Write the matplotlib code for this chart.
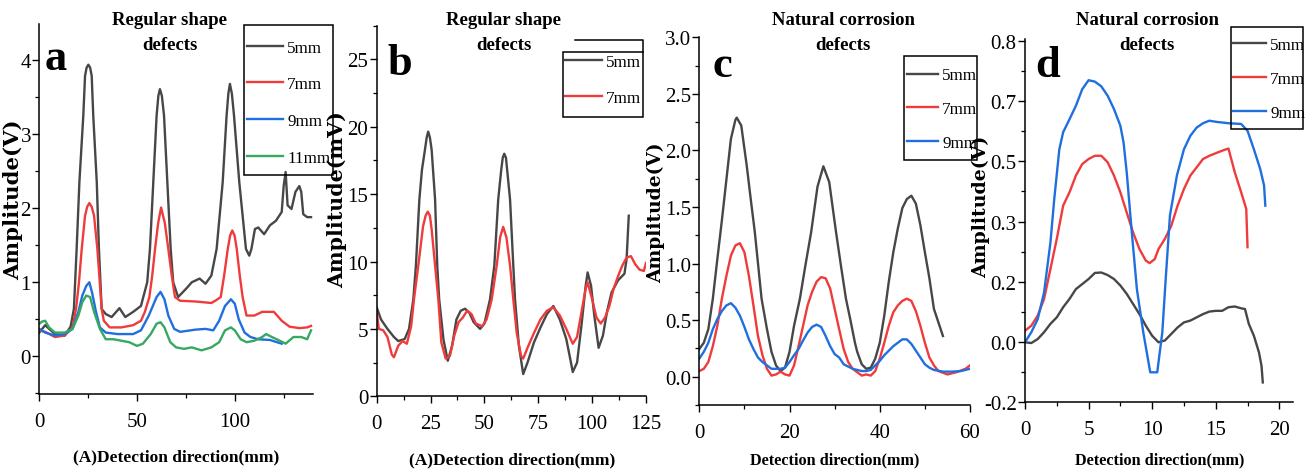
import numpy as np
import matplotlib
matplotlib.use("Agg")
import matplotlib.pyplot as plt
from matplotlib.ticker import MultipleLocator, FixedLocator, FixedFormatter, FormatStrFormatter
from matplotlib.patches import Rectangle
from matplotlib.lines import Line2D

plt.rcParams['font.family'] = ['Liberation Serif', 'DejaVu Serif']

# ---------------- data ----------------
# Panel a (Regular shape defects, V)
a_x_5 = [0,3,8,13,16,17.7,19.1,20.5,22.5,23.4,24.2,25.1,26,26.8,27.6,29.4,30.5,31.9,34,37,41,44,48,52,55.2,56.6,58.3,60.0,60.9,61.7,62.7,63.8,65.5,67.2,68.5,71,75,78,82,85,88,90.7,93.8,95.8,96.7,97.5,98.5,99.6,102.3,105.7,107.4,108.5,110.3,112,115,118,121,124,125,126,127,129,131,133,134,135,137,139]
a_y_5 = [0.32,0.42,0.30,0.28,0.4,0.64,1.45,2.35,3.25,3.79,3.9,3.94,3.9,3.79,3.25,2.35,1.45,0.64,0.57,0.53,0.65,0.53,0.60,0.68,1.0,1.45,2.35,3.25,3.52,3.61,3.52,3.25,2.35,1.45,1.0,0.8,0.91,1.0,1.05,0.98,1.09,1.45,2.35,3.25,3.55,3.68,3.55,3.25,2.35,1.45,1.36,1.45,1.72,1.74,1.65,1.77,1.83,1.95,2.3,2.49,2.04,1.99,2.22,2.3,2.22,1.92,1.88,1.88]
a_x_7 = [0,3,8,13,17,18.8,20.3,21.7,23.4,24.5,25.6,26.8,28,29.7,31.9,33,36,42,48,52,54,56.3,57.8,59.2,60.8,62.3,64.2,66,67.7,69.4,72,80,88,90,92.8,94.6,96.4,97.6,98.7,99.9,101,102.5,104,106,110,114,120,124,128,133,137,139]
a_y_7 = [0.35,0.33,0.26,0.28,0.39,0.64,1.0,1.45,1.9,2.02,2.07,2.02,1.9,1.45,0.64,0.48,0.39,0.39,0.42,0.48,0.6,0.8,1.1,1.45,1.8,2.01,1.8,1.45,1.1,0.8,0.75,0.74,0.72,0.75,0.8,1.1,1.45,1.63,1.7,1.63,1.45,1.1,0.8,0.55,0.55,0.6,0.6,0.48,0.4,0.38,0.39,0.41]
a_x_9 = [0,3,8,13,17,20,22,24,25.6,27,29,31,34,40,48,52,56,60,62,64,66,69,72,80,85,89,92,95,98,100,102,105,108,112,118,124]
a_y_9 = [0.37,0.32,0.28,0.30,0.37,0.6,0.82,0.95,1.0,0.86,0.6,0.39,0.32,0.3,0.3,0.35,0.55,0.8,0.87,0.77,0.55,0.37,0.33,0.36,0.37,0.35,0.48,0.68,0.77,0.71,0.5,0.32,0.26,0.23,0.22,0.17]
a_x_11 = [0,1.5,3,5,8,13,17,20,22,24,26,28,31,34,38,42,46,50,53,57,60,62,64,67,70,74,78,83,88,92,95,98,100,103,106,110,114,116,119,123,126,130,134,137,139]
a_y_11 = [0.44,0.47,0.48,0.39,0.32,0.32,0.37,0.55,0.73,0.82,0.8,0.6,0.37,0.23,0.23,0.21,0.19,0.14,0.17,0.3,0.44,0.46,0.39,0.19,0.12,0.1,0.12,0.08,0.12,0.19,0.35,0.39,0.35,0.23,0.19,0.21,0.26,0.3,0.26,0.21,0.17,0.26,0.26,0.23,0.35]

# Panel b (Regular shape defects, mV)
b_x_5 = [0,2,5,8,10,13,15,17,18.2,19.8,21,22.4,23.2,23.9,24.7,25.5,27.1,28.1,29,31,33,35,37,39,41,43,45,48,50,52.6,54.6,56.4,57.8,58.5,59.2,60,61.9,63.4,64.2,66,68,70,73,76,79,82,85,88,90,91,93,95,97,97.9,99.5,101,103,105,107,109,112,115,116,117]
b_y_5 = [6.6,5.7,5.0,4.4,4.1,4.25,5.0,7.2,9.7,14.6,16.8,18.3,19.2,19.64,19.2,18.3,14.6,9.7,7.2,4.2,2.64,3.75,5.7,6.35,6.5,6.2,5.5,5.0,5.4,7.2,9.7,14.6,16.8,17.7,18.0,17.7,14.6,9.7,7.2,3.75,1.65,2.5,4.0,5.1,6.1,6.7,5.7,4.25,2.64,1.8,2.5,5.2,8.2,9.19,8.2,6.0,3.6,4.5,6.35,7.7,8.6,9.1,10.2,13.4]
b_x_7 = [0,1,3,5,7,8,10,12,14,16,17.3,19.3,21.5,22.7,23.7,24.7,25.5,27.1,28.6,30,32,34,36,38,40,42,44,46,49,51,53.4,55.7,57.3,58.7,60.2,61.9,63.4,65,67,68,70,73,76,79,82,85,88,91,93,95,97,97.9,100,102,104,106,108,110,112,114,116,118,120,122,124,125]
b_y_7 = [6.2,5.0,4.9,4.4,3.1,2.9,3.75,4.1,3.9,5.2,7.2,9.7,12.6,13.4,13.7,13.4,12.4,9.7,7.2,4.0,2.8,3.0,4.5,5.5,5.85,6.35,6.1,5.4,5.2,5.7,7.2,9.7,11.8,12.57,11.8,9.7,7.2,4.7,3.0,2.8,3.6,4.7,5.7,6.35,6.6,6.0,5.0,3.9,4.4,6.2,8.0,8.45,7.2,5.85,5.4,5.85,6.7,8.0,8.9,9.7,10.3,10.4,9.8,9.4,9.3,9.9]

# Panel c (Natural corrosion defects, V)
c_x_5 = [0,1,2,3,4,5,6,7,8,8.3,9.3,10.5,11.4,12.3,13.8,15,16,17,18,19,20,21,22.3,23.5,24.8,26.2,27.5,28.8,30.3,31.4,32.5,33.5,34.5,35,36,37,38,39,40,41,42,43,44,45,46,47,48,49,50,51,52,53,54]
c_y_5 = [0.245,0.3,0.42,0.69,1.04,1.38,1.74,2.1,2.27,2.29,2.22,1.87,1.57,1.28,0.69,0.42,0.22,0.1,0.05,0.08,0.22,0.45,0.69,0.98,1.28,1.68,1.86,1.72,1.28,0.98,0.69,0.5,0.3,0.22,0.11,0.07,0.08,0.16,0.3,0.54,0.84,1.1,1.31,1.49,1.57,1.6,1.53,1.34,1.1,0.87,0.6,0.48,0.36]
c_x_7 = [0,1,2,3,4,5,6,7,8,9,10,11,12,13,14,15,16,17,18,19,20,21,22,23,24,25,26,27,28,29,30,31,32,33,34,35,36,37,38,39,40,41,42,43,44,45,46,47,48,49,50,51,52,53,55,57,59,60]
c_y_7 = [0.05,0.07,0.13,0.27,0.45,0.69,0.89,1.07,1.16,1.18,1.1,0.89,0.63,0.36,0.19,0.07,0.01,0.02,0.045,0.02,0.01,0.1,0.27,0.45,0.63,0.75,0.84,0.88,0.87,0.78,0.6,0.42,0.245,0.13,0.07,0.04,0.01,0.02,0.01,0.05,0.16,0.3,0.45,0.57,0.63,0.67,0.69,0.67,0.58,0.45,0.3,0.17,0.1,0.05,0.02,0.04,0.07,0.1]
c_x_9 = [0,1,2,3,4,5,6,7,8,9,10,11,12,13,14,15,16,17,18,19,20,21,22,23,24,25,26,27,28,29,30,31,32,33,34,35,36,37,38,39,40,41,42,43,44,45,46,47,48,49,50,51,52,54,56,58,60]
c_y_9 = [0.16,0.22,0.3,0.42,0.51,0.58,0.63,0.65,0.61,0.54,0.44,0.33,0.245,0.17,0.13,0.1,0.07,0.07,0.07,0.08,0.13,0.19,0.245,0.32,0.39,0.44,0.46,0.44,0.36,0.27,0.2,0.17,0.11,0.09,0.07,0.06,0.05,0.05,0.06,0.1,0.14,0.19,0.23,0.27,0.3,0.33,0.33,0.29,0.23,0.17,0.11,0.08,0.06,0.045,0.045,0.05,0.07]

# Panel d (Natural corrosion defects, V) -- values on the linear axis
d_x_5 = [0,0.5,1,1.5,2,2.5,3,3.5,4,4.5,5,5.5,6,6.5,7,7.5,8,8.5,9,9.5,10,10.5,11,11.5,12,12.5,13,13.5,14,14.5,15,15.5,16,16.5,17,17.3,17.6,18,18.4,18.6,18.7]
d_y_5 = [-0.034,-0.036,-0.025,-0.006,0.017,0.035,0.063,0.086,0.113,0.127,0.141,0.158,0.159,0.152,0.141,0.123,0.1,0.072,0.044,0.012,-0.016,-0.034,-0.029,-0.011,0.007,0.021,0.026,0.035,0.044,0.051,0.053,0.053,0.063,0.065,0.06,0.058,0.017,-0.016,-0.062,-0.099,-0.145]
d_x_7 = [0,0.5,1,1.5,2,2.5,3,3.5,4,4.5,5,5.5,6,6.5,7,7.5,8,8.5,9,9.5,9.8,10.2,10.5,11,11.5,12,12.5,13,13.5,14,14.5,15,15.5,16,16.5,17,17.4,17.5]
d_y_7 = [-0.002,0.012,0.04,0.086,0.169,0.252,0.344,0.381,0.427,0.459,0.473,0.482,0.482,0.464,0.427,0.381,0.325,0.27,0.224,0.192,0.185,0.196,0.224,0.252,0.288,0.344,0.39,0.427,0.45,0.473,0.482,0.489,0.496,0.502,0.436,0.381,0.335,0.229]
d_x_9 = [0,0.5,1,1.5,2,2.3,2.7,3,3.5,4,4.5,5,5.5,6,6.5,7,7.5,7.75,8,8.4,8.8,9.3,9.85,10.4,10.8,11.05,11.4,11.95,12.5,13,13.5,14,14.5,15,16,17,17.5,18,18.5,18.8,18.9]
d_y_9 = [-0.034,-0.006,0.03,0.104,0.242,0.362,0.5,0.547,0.583,0.62,0.666,0.691,0.687,0.674,0.648,0.611,0.565,0.519,0.436,0.27,0.113,-0.006,-0.117,-0.117,-0.006,0.133,0.317,0.428,0.5,0.537,0.56,0.572,0.579,0.576,0.572,0.57,0.551,0.5,0.445,0.4,0.344]
d_yticklabels = ['-0.2', '0.0', '0.2', '0.3', '0.5', '0.7', '0.8']

labels_a = ['5mm', '7mm', '9mm', '11mm']
labels_b = ['5mm', '7mm']
labels_cd = ['5mm', '7mm', '9mm']

title_reg = 'Regular shape\ndefects'
title_nat = 'Natural corrosion\ndefects'
xlabel_A = '(A)Detection direction(mm)'
xlabel_plain = 'Detection direction(mm)'

# ---------------- style ----------------
C_BLK = '#474747'
C_RED = '#ef3b3b'
C_BLU = '#1f6fdf'
C_GRN = '#37a862'
LW = 1.7
LEG_FS = 12.3

W, H = 1312, 477
fig = plt.figure(figsize=(W / 100, H / 100), dpi=100)


def fx(px):
    return px / W


def fy(py):
    return 1 - py / H


def ax_at(l, r, t, b):
    return fig.add_axes([l / W, 1 - b / H, (r - l) / W, (b - t) / H])


def style(ax):
    for s in ('top', 'right'):
        ax.spines[s].set_visible(False)
    for s in ('left', 'bottom'):
        ax.spines[s].set_linewidth(1.1)
    ax.tick_params(which='major', direction='out', length=5, width=1.0,
                   labelsize=15, pad=1)
    ax.tick_params(which='minor', direction='out', length=3, width=0.9)
    ax.tick_params(axis='x', which='major', pad=8)


def legend(ax, lines, labels, x, y, hl, ls):
    fs_px = LEG_FS * 100 / 72
    ax.legend(lines, labels, loc='upper left', bbox_to_anchor=(fx(x), fy(y)),
              bbox_transform=fig.transFigure, frameon=False, borderpad=0,
              borderaxespad=0, handlelength=hl / fs_px, handletextpad=0.25,
              labelspacing=ls, fontsize=LEG_FS)


def frame(x0, y0, x1, y1):
    fig.add_artist(Rectangle((fx(x0), fy(y1)), (x1 - x0) / W, (y1 - y0) / H,
                             transform=fig.transFigure, fill=False,
                             edgecolor='black', lw=1.1))


def texts(title, tx, letter, lx, ly, ylab, yx, yy, ysize, xlab, xx, xy, xsize):
    fig.text(fx(tx), fy(33), title, ha='center', va='center', fontsize=13.5,
             fontweight='bold', linespacing=1.55)
    fig.text(fx(lx), fy(ly), letter, ha='left', va='baseline', fontsize=32,
             fontweight='bold')
    fig.text(fx(yx), fy(yy), ylab, ha='center', va='center', rotation=90,
             fontsize=ysize, fontweight='bold', family='DejaVu Serif')
    fig.text(fx(xx), fy(xy), xlab, ha='center', va='center', fontsize=xsize,
             fontweight='bold')


# ---------------- panel a ----------------
axa = ax_at(39.3, 313, 25, 395)
style(axa)
la = [axa.plot(a_x_5, a_y_5, color=C_BLK, lw=LW)[0],
      axa.plot(a_x_7, a_y_7, color=C_RED, lw=LW)[0],
      axa.plot(a_x_9, a_y_9, color=C_BLU, lw=LW)[0],
      axa.plot(a_x_11, a_y_11, color=C_GRN, lw=LW)[0]]
axa.set_xlim(0, 140)
axa.set_ylim(-0.51, 4.49)
axa.xaxis.set_major_locator(MultipleLocator(50))
axa.xaxis.set_minor_locator(MultipleLocator(25))
axa.yaxis.set_major_locator(MultipleLocator(1))
axa.yaxis.set_minor_locator(MultipleLocator(0.5))
frame(244, 26, 333, 176)
legend(axa, la, labels_a, 247, 40.5, 36, 1.22)
texts(title_reg, 170, 'a', 45, 70, 'Amplitude(V)', 13, 200, 15.3,
      xlabel_A, 176, 457, 12.5)

# ---------------- panel b ----------------
axb = ax_at(376.7, 646, 26.7, 397.3)
style(axb)
lb = [axb.plot(b_x_5, b_y_5, color=C_BLK, lw=LW)[0],
      axb.plot(b_x_7, b_y_7, color=C_RED, lw=LW)[0]]
axb.set_xlim(0, 125)
axb.set_ylim(0, 27.5)
axb.xaxis.set_major_locator(MultipleLocator(25))
axb.xaxis.set_minor_locator(MultipleLocator(12.5))
axb.yaxis.set_major_locator(MultipleLocator(5))
axb.yaxis.set_minor_locator(MultipleLocator(2.5))
fig.add_artist(Line2D([fx(575), fx(643), fx(643)], [fy(41), fy(41), fy(53)],
                      transform=fig.transFigure, color='black', lw=1.1))
frame(563, 53, 643, 118)
legend(axb, lb, labels_b, 565, 55, 37, 1.18)
texts(title_reg, 504, 'b', 387, 75, 'Amplitude(mV)', 337, 200, 14.8,
      xlabel_A, 512, 460, 12.5)

# ---------------- panel c ----------------
axc = ax_at(699.3, 970, 38.3, 406)
style(axc)
lc = [axc.plot(c_x_5, c_y_5, color=C_BLK, lw=LW)[0],
      axc.plot(c_x_7, c_y_7, color=C_RED, lw=LW)[0],
      axc.plot(c_x_9, c_y_9, color=C_BLU, lw=LW)[0]]
axc.set_xlim(0, 60)
axc.set_ylim(-0.25, 3.0)
axc.xaxis.set_major_locator(MultipleLocator(20))
axc.xaxis.set_minor_locator(MultipleLocator(10))
axc.yaxis.set_major_locator(MultipleLocator(0.5))
axc.yaxis.set_minor_locator(MultipleLocator(0.25))
axc.yaxis.set_major_formatter(FormatStrFormatter('%.1f'))
frame(904, 57, 977, 161)
legend(axc, lc, labels_cd, 907, 68.5, 31, 1.05)
texts(title_nat, 843, 'c', 712, 77, 'Amplitude(V)', 656, 213, 13.4,
      xlabel_plain, 835, 460, 11.7)

# ---------------- panel d ----------------
axd = ax_at(1025, 1293.3, 40, 403.3)
style(axd)
ld = [axd.plot(d_x_5, d_y_5, color=C_BLK, lw=LW)[0],
      axd.plot(d_x_7, d_y_7, color=C_RED, lw=LW)[0],
      axd.plot(d_x_9, d_y_9, color=C_BLU, lw=LW)[0]]
axd.set_xlim(0, 21.1)
axd.set_ylim(-0.2, 0.805)
axd.xaxis.set_major_locator(MultipleLocator(5))
axd.xaxis.set_minor_locator(MultipleLocator(2.5))
dticks = np.linspace(-0.2, 0.8, len(d_yticklabels))
axd.yaxis.set_major_locator(FixedLocator(dticks))
axd.yaxis.set_major_formatter(FixedFormatter(d_yticklabels))
axd.yaxis.set_minor_locator(FixedLocator((dticks[:-1] + dticks[1:]) / 2))
frame(1231, 28, 1303, 130)
legend(axd, ld, labels_cd, 1233, 38, 33, 1.05)
texts(title_nat, 1147, 'd', 1035, 77, 'Amplitude(V)', 981, 207, 13.6,
      xlabel_plain, 1160, 460, 11.7)

fig.savefig('out.png', dpi=100)
